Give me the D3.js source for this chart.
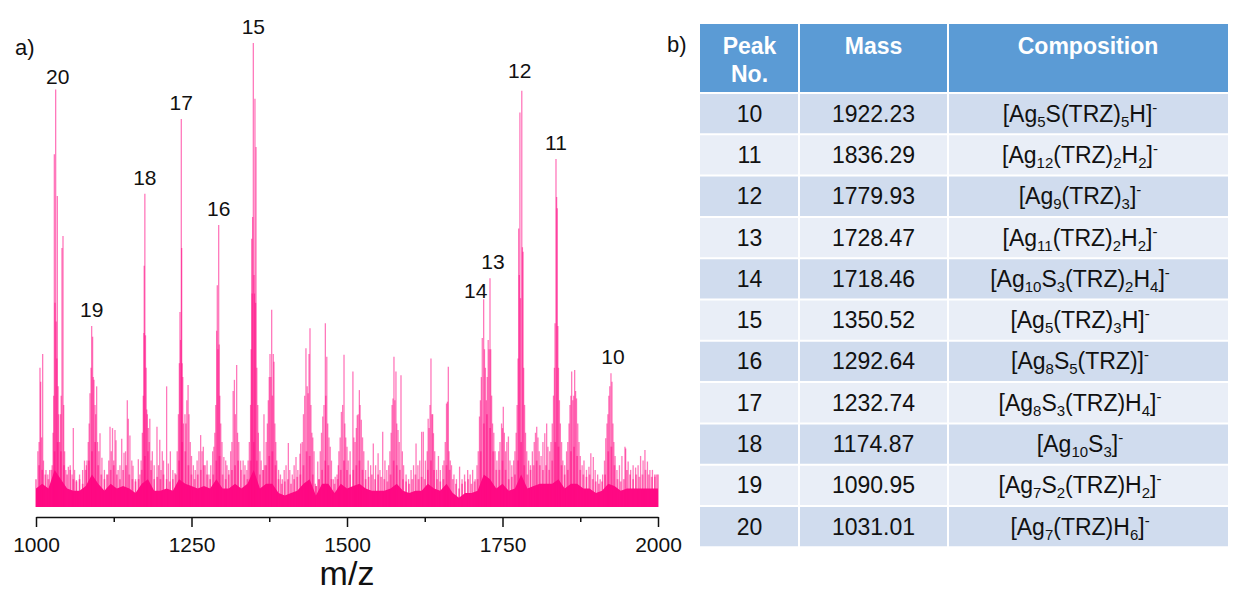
<!DOCTYPE html>
<html>
<head>
<meta charset="utf-8">
<script src="https://cdn.jsdelivr.net/npm/d3@7"></script>
<style>
  body { margin: 0; background: #fff; }
  svg { display: block; font-family: "Liberation Sans", Arial, sans-serif; }
</style>
</head>
<body>
<svg id="chart" width="1236" height="594"></svg>
<script>
// ---- spectrum data ----
// tall sticks: [m/z, relative intensity %]
var sticks = [
  [1003,12],[1005,14],[1006.4,30],[1007.5,27],[1009,15],[1010.7,33],[1012,10],[1016,8],[1019,7],[1022,8],
  [1026,9],[1027.5,16],[1028.5,24],[1029.5,76],[1030.5,44],[1031.6,90],[1032.5,40],[1033.5,32],[1034.3,67],[1035.5,26],
  [1036.5,20],[1038,14],[1039.5,20],[1040.5,24],[1041.8,55.8],[1043.4,58.4],[1044.5,22],[1046,12],[1048,8],
  [1052,8.7],[1055,9],[1058,7],[1060,17],[1062,8],[1065,5.8],[1070,7],[1075,8],[1078,10],[1081,9],
  [1082,10],[1084,14],[1085.5,18],[1086.8,24.5],[1088.5,30],[1089.5,39],[1091,36.7],[1092,28],[1093.2,27.4],[1094.9,22],
  [1096,20],[1097.5,26],[1099,14],[1101,12],[1102.9,15.9],
  [1106,10.6],[1110,8],[1114,7],[1117,10],[1119,17.3],[1121,12],[1123,17],[1125,10],[1127,16.6],[1128.6,14.4],
  [1132,8],[1135,9],[1137.8,14.7],[1141.5,11.7],[1144,12],[1146.8,23],[1148.4,19],[1151,15.4],[1154,10],[1156,8.9],
  [1160,6],[1164.5,10.3],[1167,7],
  [1169,10],[1171,16],[1172.5,24],[1173.5,37.5],[1174,52],[1175,67.5],[1176,37],[1177,30],[1178,21],[1179,20],
  [1180.5,17],[1182,14],[1183,19],[1185,10],[1187,12],[1190,9],
  [1194.5,17.3],[1197,9],[1199,14.5],[1201,8],[1203,12],[1205,10],[1210,26],[1212.7,9.4],[1216,12],[1220,8],[1223.5,7.3],[1227,12],
  [1229,20],[1230.5,31],[1231.5,42],[1232.5,36],[1233.6,83.6],[1234.2,55.8],[1235,31],[1236,28],[1237,18],[1239.5,20],
  [1241,18],[1242.5,23],[1244.5,26.3],[1246,20],[1248,14],[1250,11],
  [1253,9],[1256,8],[1259,10],[1262,12],[1264.7,15.5],[1267,12],[1269,13],[1272,9],[1275,10],[1278,7],[1281,9],[1284,12],
  [1286,13],[1287.5,16],[1289,22],[1290.5,38],[1291.5,47.8],[1292.5,34],[1293.7,60.8],[1294.5,35],[1295.5,24],[1297,18],[1299,14],
  [1302,10.8],[1305,10],[1307,9],[1310,8],[1313,12],[1315,14],[1317,25],[1319,27.4],[1320.5,20],[1322.6,30.6],
  [1324,16],[1326,14],[1329,10],[1333,10],[1336,9],[1339,8],[1341,10],
  [1343,14],[1345,22],[1346,34],[1346.8,57.8],[1347.5,46],[1348.3,62.5],[1349.4,100],[1350.5,50],[1351.2,46],[1352,88],
  [1353,44],[1353.7,77.6],[1355,30],[1356.5,22],[1357.5,16],[1360,12],[1362,10],
  [1365,8],[1366.5,20],[1368,9],
  [1370,14],[1372,18],[1373.5,23],[1375,28],[1376.2,33],[1377.5,28],[1378.9,42.5],[1380,24],[1381.5,33],[1382.6,31.3],
  [1384,18],[1385.5,14],[1387,10],[1390,8],
  [1393,7],[1396,6],[1399,8],[1402,9],[1405.7,13.8],[1408,8],[1412,7],[1415,9],[1418,10.8],[1421,8],[1424.4,11.5],[1425.5,13.7],
  [1428,14],[1430,20],[1432,24],[1434,34.2],[1436,26],[1437.5,24.5],[1439,33],[1440.5,38.5],[1442,22],[1443.5,16],[1445,15],[1447,12],
  [1449,5],[1451,4.5],[1453,9.8],[1455,6],
  [1457,12],[1459,16],[1461,19.5],[1463,22],[1465.2,39.6],[1466,24],[1467.5,32.4],[1469,18],[1471,15],[1473,13],[1475,10],
  [1478,6],[1481,6.5],[1484,7],[1486,9],
  [1487,12],[1489,15],[1491,20.5],[1493,22],[1495.2,32.8],[1496.5,18],[1498,15],[1500,13],[1502,10],
  [1505,12],[1509.5,29.2],[1511,15],
  [1513,14],[1515,17],[1516.5,19.8],[1518,20],[1519.9,25.2],[1521,22],[1523,18.8],[1525,15],[1527,12],
  [1530,8],[1534,10],[1538,9],[1542.3,13.7],[1546,9],[1550,11.6],[1553,8],[1557.4,16.2],[1561,10],[1564,8],[1567,9],
  [1569,12],[1571,16],[1572.5,22],[1574,23.4],[1575.5,32.4],[1577,23],[1578.7,29.2],[1580,18],[1582,16.6],[1584,14],
  [1586.8,28.4],[1589,12],[1591,9],
  [1595,7],[1599,6],[1603,8],[1607,9],[1611,13.7],[1614,9],[1617,10],[1620,16.2],[1622.7,16.2],[1626,10],
  [1629,12],[1630.5,19],[1632,17],[1633.5,22],[1635,32],[1636.5,20],[1637.7,20],[1639,15.9],[1641,12],
  [1644,8],[1647,11],[1650,8],[1654,9],
  [1656,10],[1658,14],[1660,22.3],[1661.5,22.7],[1662.9,30.2],[1664,12],[1666,10],[1668,9],
  [1672,7],[1676,6],[1681,8.7],[1685,6],[1689,7],[1694,8],[1698,7],[1702,8],[1706,6],
  [1709,9],[1711,12],[1713,19.5],[1714.5,23],[1716,28],[1717.5,36.4],[1719.7,44.8],[1721,34],[1722.5,30],[1724,23],
  [1725.5,28],[1727,36],[1728.5,34],[1729.9,49.3],[1731,34],[1732.5,24],[1734,18],[1736,16],[1738,12],
  [1741,10],[1744,12],
  [1746,14],[1748.5,18],[1750,17],[1751.3,21.6],[1753,16],[1755,12],[1757,14],[1759.5,15.2],[1762,10],[1765,9],[1768,10],
  [1770,12],[1772,16],[1773.5,22],[1775,32],[1776,60],[1777,50],[1778,85],[1779,45],[1781,89.7],[1782,56],
  [1783,55],[1784,30],[1785.5,22],[1787,16],[1789,12],
  [1792,10],[1795,9],[1798,12],[1801,14],[1803,16],[1805,17.3],[1807,15],[1809,12],[1812,11],[1815,14],
  [1818,15.9],[1821,18],[1823,13],[1826,12],
  [1828,14],[1830,18],[1832,24],[1833.5,30],[1834.5,39.6],[1836,75],[1837,66.8],[1838,64.4],[1839,39],[1840,30],
  [1841.5,23],[1843,18],[1845,14],[1847,10],
  [1850,9],[1853,12],
  [1855,14],[1857,18],[1858.5,22],[1860,24],[1861.2,29.2],[1863,23],[1864.5,24],[1866,29.5],[1867.5,25],[1869,23.4],
  [1871,18],[1873,14],[1875,11],
  [1878,9],[1881,10],[1885,8],[1889,8.7],[1892,11.6],[1896,10.8],[1899,8],[1903,7],[1907,6],[1911,7],
  [1914,10],[1916,14.8],[1918,18],[1919.5,20],[1921,24],[1922.5,26],[1924.4,28.8],[1926,27],[1927.5,18],[1929,14],
  [1931,11],[1934,8],
  [1938,9],[1942,11],[1946.9,13],[1948,12.6],[1952,9.8],[1956,8],[1960,9],[1964,8.5],[1968,9],[1972,11],
  [1976,10],[1979,12.3],[1983,9.8],[1987,8],[1991,8],[1995,6.5],[1998,7]
];

// noise grass, one value per 5 m/z from 1000 to 2000
var grassStart = 1000, grassStep = 5;
var grass = [
  6, 9, 8, 7, 6, 8, 12, 14, 12, 9,        // 1000
  7, 8, 6, 5.5, 6, 5, 8, 10, 12, 14,      // 1050
  9, 7, 6, 7, 8, 9, 7, 6, 8, 9,           // 1100
  7, 6, 5.5, 6, 8, 11, 12, 8, 6, 6.5,     // 1150
  6, 7, 6, 5.5, 6, 7, 10, 14, 12, 9,      // 1200
  7, 6, 7, 8, 9, 7, 6, 7, 10, 11,         // 1250
  7, 6, 7, 8, 9, 10, 8, 7, 6, 10,         // 1300
  14, 10, 7, 8, 9, 11, 12, 9, 6, 5,       // 1350
  5.5, 6, 5, 6, 6.5, 7, 9, 12, 11, 7,     // 1400
  4.5, 6, 8, 10, 9, 6, 5, 6, 8, 10,       // 1450
  8, 7, 8, 9, 10, 8, 6, 6.5, 7, 6,        // 1500
  7, 6.5, 6, 5.5, 7, 10, 9, 8, 6, 5.5,    // 1550
  5, 6, 7, 6, 6.5, 6, 8, 10, 8, 6,        // 1600
  5.5, 6, 9, 8, 6, 5, 4, 5, 5.5, 6,       // 1650
  5, 5.5, 6, 12, 18, 20, 17, 12, 8, 8,    // 1700
  10, 8, 6, 6.5, 7, 10, 14, 9, 7, 8,      // 1750
  9, 10, 9, 8, 9, 8, 10, 14, 13, 9,       // 1800
  7, 8, 12, 13, 11, 8, 7, 6.5, 7, 6,      // 1850
  5.5, 5, 5.5, 7, 12, 13, 9, 6, 5.5, 6,   // 1900
  8, 7, 6, 7, 6.5, 7, 8, 7, 6.5, 7,       // 1950
  7                                       // 2000
];

// solid floor of the trace, one value per 10 m/z from 1000 to 2000
var floorStep = 10;
var floorLevel = [
  4, 5, 4, 8, 6, 4, 3.5, 3.5, 4.5, 7,
  5, 3.5, 5, 4, 4.5, 4, 3, 5, 6, 3.5,
  3.5, 4, 3.5, 6, 5, 4.5, 4, 4.5, 4, 6,
  4, 4, 5, 4, 5, 8, 4, 5, 5, 3,
  2.5, 3, 3.5, 5, 6, 2.5, 5, 5, 3, 5,
  4, 4.5, 5, 4, 3.5, 3.5, 3.5, 4, 5, 3.5,
  3, 3.5, 3.5, 5, 4, 3.5, 5, 3, 2, 3,
  3, 3.5, 7, 6, 4, 5, 3.5, 4, 7, 4,
  4.5, 5, 5, 5, 6, 4, 5, 5, 4, 4,
  3, 3.5, 5, 4.5, 3.5, 4, 4, 4, 4, 4,
  4
];

// labelled peaks: number, apex m/z, apex intensity
var peakNo   = [10, 11, 12, 13, 14, 15, 16, 17, 18, 19, 20];
var peakMz   = [1924.4, 1836, 1781, 1729.9, 1719.7, 1349.4, 1293.7, 1233.6, 1175, 1089.5, 1031.6];
var peakTop  = [28.8, 75, 89.7, 49.3, 44.8, 100, 60.8, 83.6, 67.5, 39, 90];

var majorTicks = [1000, 1250, 1500, 1750, 2000];
var minorTicks = [1125, 1375, 1625, 1875];

// ---- table data ----
var tableHead = ["Peak|No.", "Mass", "Composition"];
var masses = ["1922.23", "1836.29", "1779.93", "1728.47", "1718.46", "1350.52",
              "1292.64", "1232.74", "1174.87", "1090.95", "1031.01"];
var compositions = [
  "[Ag_5S(TRZ)_5H]^-",
  "[Ag_12(TRZ)_2H_2]^-",
  "[Ag_9(TRZ)_3]^-",
  "[Ag_11(TRZ)_2H_2]^-",
  "[Ag_10S_3(TRZ)_2H_4]^-",
  "[Ag_5(TRZ)_3H]^-",
  "[Ag_8S_5(TRZ)]^-",
  "[Ag_8S_3(TRZ)H_4]^-",
  "[Ag_10S_3]^-",
  "[Ag_7S_2(TRZ)H_2]^-",
  "[Ag_7(TRZ)H_6]^-"
];

var svg = d3.select('#chart');
var pink = '#ff0a84';

// ---- spectrum ----
var x = d3.scaleLinear().domain([1000, 2000]).range([36, 658]);
var y = d3.scaleLinear().domain([0, 100]).range([507, 43]);

var spec = svg.append('g');

// floor
var floorPts = floorLevel.map(function(v, i) { return [1000 + i * floorStep, v]; });
spec.append('path')
  .datum(floorPts)
  .attr('fill', pink)
  .attr('d', d3.area()
    .x(function(d) { return x(d[0]); })
    .y0(y(0))
    .y1(function(d) { return y(d[1]); }));

// grass
spec.append('g').selectAll('line')
  .data(grass)
  .enter().append('line')
  .attr('x1', function(d, i) { return x(grassStart + i * grassStep); })
  .attr('x2', function(d, i) { return x(grassStart + i * grassStep); })
  .attr('y1', y(0))
  .attr('y2', function(d) { return y(d); })
  .attr('stroke', pink)
  .attr('stroke-width', 1.8)
  .attr('stroke-opacity', 0.5);

// sticks
spec.append('g').selectAll('line')
  .data(sticks)
  .enter().append('line')
  .attr('x1', function(d) { return x(d[0]); })
  .attr('x2', function(d) { return x(d[0]); })
  .attr('y1', y(0))
  .attr('y2', function(d) { return y(d[1]); })
  .attr('stroke', pink)
  .attr('stroke-width', 1.3)
  .attr('stroke-opacity', 0.55);

// peak labels (small nudges where labels would collide)
var nudge = { 12: [-2, -4], 13: [3, 0], 14: [-8, 8], 20: [2, 4], 10: [2, 0] };
svg.append('g').selectAll('text')
  .data(peakNo)
  .enter().append('text')
  .attr('x', function(d, i) { return x(peakMz[i]) + (nudge[d] ? nudge[d][0] : 0); })
  .attr('y', function(d, i) { return y(peakTop[i]) - 9 + (nudge[d] ? nudge[d][1] : 0); })
  .attr('text-anchor', 'middle')
  .style('font-size', '21px')
  .style('fill', '#111')
  .text(function(d) { return d; });

// axis
var axisG = svg.append('g')
  .attr('transform', 'translate(0,517)')
  .call(d3.axisBottom(x)
    .tickValues(majorTicks)
    .tickSize(10)
    .tickSizeOuter(0)
    .tickPadding(10)
    .tickFormat(d3.format('d')));
axisG.select('.domain').attr('stroke-width', 1.5).attr('stroke', '#111');
axisG.selectAll('.tick line').attr('stroke-width', 1.5).attr('stroke', '#111');
axisG.selectAll('.tick text')
  .style('font-family', '"Liberation Sans", Arial, sans-serif')
  .style('font-size', '21px')
  .style('fill', '#111');

var minorG = svg.append('g')
  .attr('transform', 'translate(0,517)')
  .call(d3.axisBottom(x).tickValues(minorTicks).tickSize(5).tickSizeOuter(0).tickFormat(''));
minorG.select('.domain').remove();
minorG.selectAll('.tick line').attr('stroke-width', 1.5).attr('stroke', '#111');

svg.append('text')
  .attr('x', (x(1000) + x(2000)) / 2)
  .attr('y', 585)
  .attr('text-anchor', 'middle')
  .style('font-size', '34px')
  .style('fill', '#111')
  .text('m/z');

svg.append('text').attr('x', 15).attr('y', 55)
  .style('font-size', '22px').style('fill', '#111').text('a)');
svg.append('text').attr('x', 667).attr('y', 52)
  .style('font-size', '22px').style('fill', '#111').text('b)');

// ---- table ----
var colEdges = [700, 799, 948, 1228];
var headTop = 24, headBottom = 93, rowH = 41.3;
var tbl = svg.append('g');

tbl.append('rect')
  .attr('x', colEdges[0]).attr('y', headTop)
  .attr('width', colEdges[3] - colEdges[0]).attr('height', headBottom - headTop)
  .attr('fill', '#5b9bd5');

tbl.selectAll('rect.row')
  .data(peakNo)
  .enter().append('rect')
  .attr('class', 'row')
  .attr('x', colEdges[0])
  .attr('y', function(d, i) { return headBottom + i * rowH; })
  .attr('width', colEdges[3] - colEdges[0])
  .attr('height', rowH)
  .attr('fill', function(d, i) { return i % 2 === 0 ? '#d0dcee' : '#e9eef7'; });

// white grid
tbl.selectAll('line.h')
  .data(d3.range(peakNo.length + 1))
  .enter().append('line')
  .attr('x1', colEdges[0]).attr('x2', colEdges[3])
  .attr('y1', function(i) { return headBottom + i * rowH; })
  .attr('y2', function(i) { return headBottom + i * rowH; })
  .attr('stroke', '#fff').attr('stroke-width', 2);
tbl.selectAll('line.v')
  .data([colEdges[1], colEdges[2]])
  .enter().append('line')
  .attr('x1', function(d) { return d; }).attr('x2', function(d) { return d; })
  .attr('y1', headTop).attr('y2', headBottom + peakNo.length * rowH)
  .attr('stroke', '#fff').attr('stroke-width', 2);

var colCenter = function(c) { return (colEdges[c] + colEdges[c + 1]) / 2; };

// header
tableHead.forEach(function(h, c) {
  var t = tbl.append('text')
    .attr('x', colCenter(c)).attr('y', 54)
    .attr('text-anchor', 'middle')
    .style('font-size', '23px').style('font-weight', 'bold').style('fill', '#fff');
  h.split('|').forEach(function(part, k) {
    t.append('tspan').attr('x', colCenter(c)).attr('dy', k === 0 ? 0 : 27.5).text(part);
  });
});

// body
var rowMid = function(i) { return headBottom + i * rowH + rowH / 2 + 8; };
tbl.selectAll('text.no')
  .data(peakNo)
  .enter().append('text')
  .attr('x', colCenter(0)).attr('y', function(d, i) { return rowMid(i); })
  .attr('text-anchor', 'middle')
  .style('font-size', '23px').style('fill', '#111')
  .text(function(d) { return d; });
tbl.selectAll('text.mass')
  .data(masses)
  .enter().append('text')
  .attr('x', colCenter(1)).attr('y', function(d, i) { return rowMid(i); })
  .attr('text-anchor', 'middle')
  .style('font-size', '23px').style('fill', '#111')
  .text(function(d) { return d; });

compositions.forEach(function(s, i) {
  var t = tbl.append('text')
    .attr('x', 1080).attr('y', rowMid(i))
    .attr('text-anchor', 'middle')
    .style('font-size', '23px').style('fill', '#111');
  var re = /_(\d+)|\^(-)|([^_^]+)/g, m, shift = 0;
  while ((m = re.exec(s)) !== null) {
    if (m[1]) {
      t.append('tspan').attr('dy', 5 - shift).style('font-size', '15px').text(m[1]);
      shift = 5;
    } else if (m[2]) {
      t.append('tspan').attr('dy', -9 - shift).style('font-size', '15px').text('-');
      shift = -9;
    } else {
      t.append('tspan').attr('dy', -shift).text(m[3]);
      shift = 0;
    }
  }
});
</script>
</body>
</html>
